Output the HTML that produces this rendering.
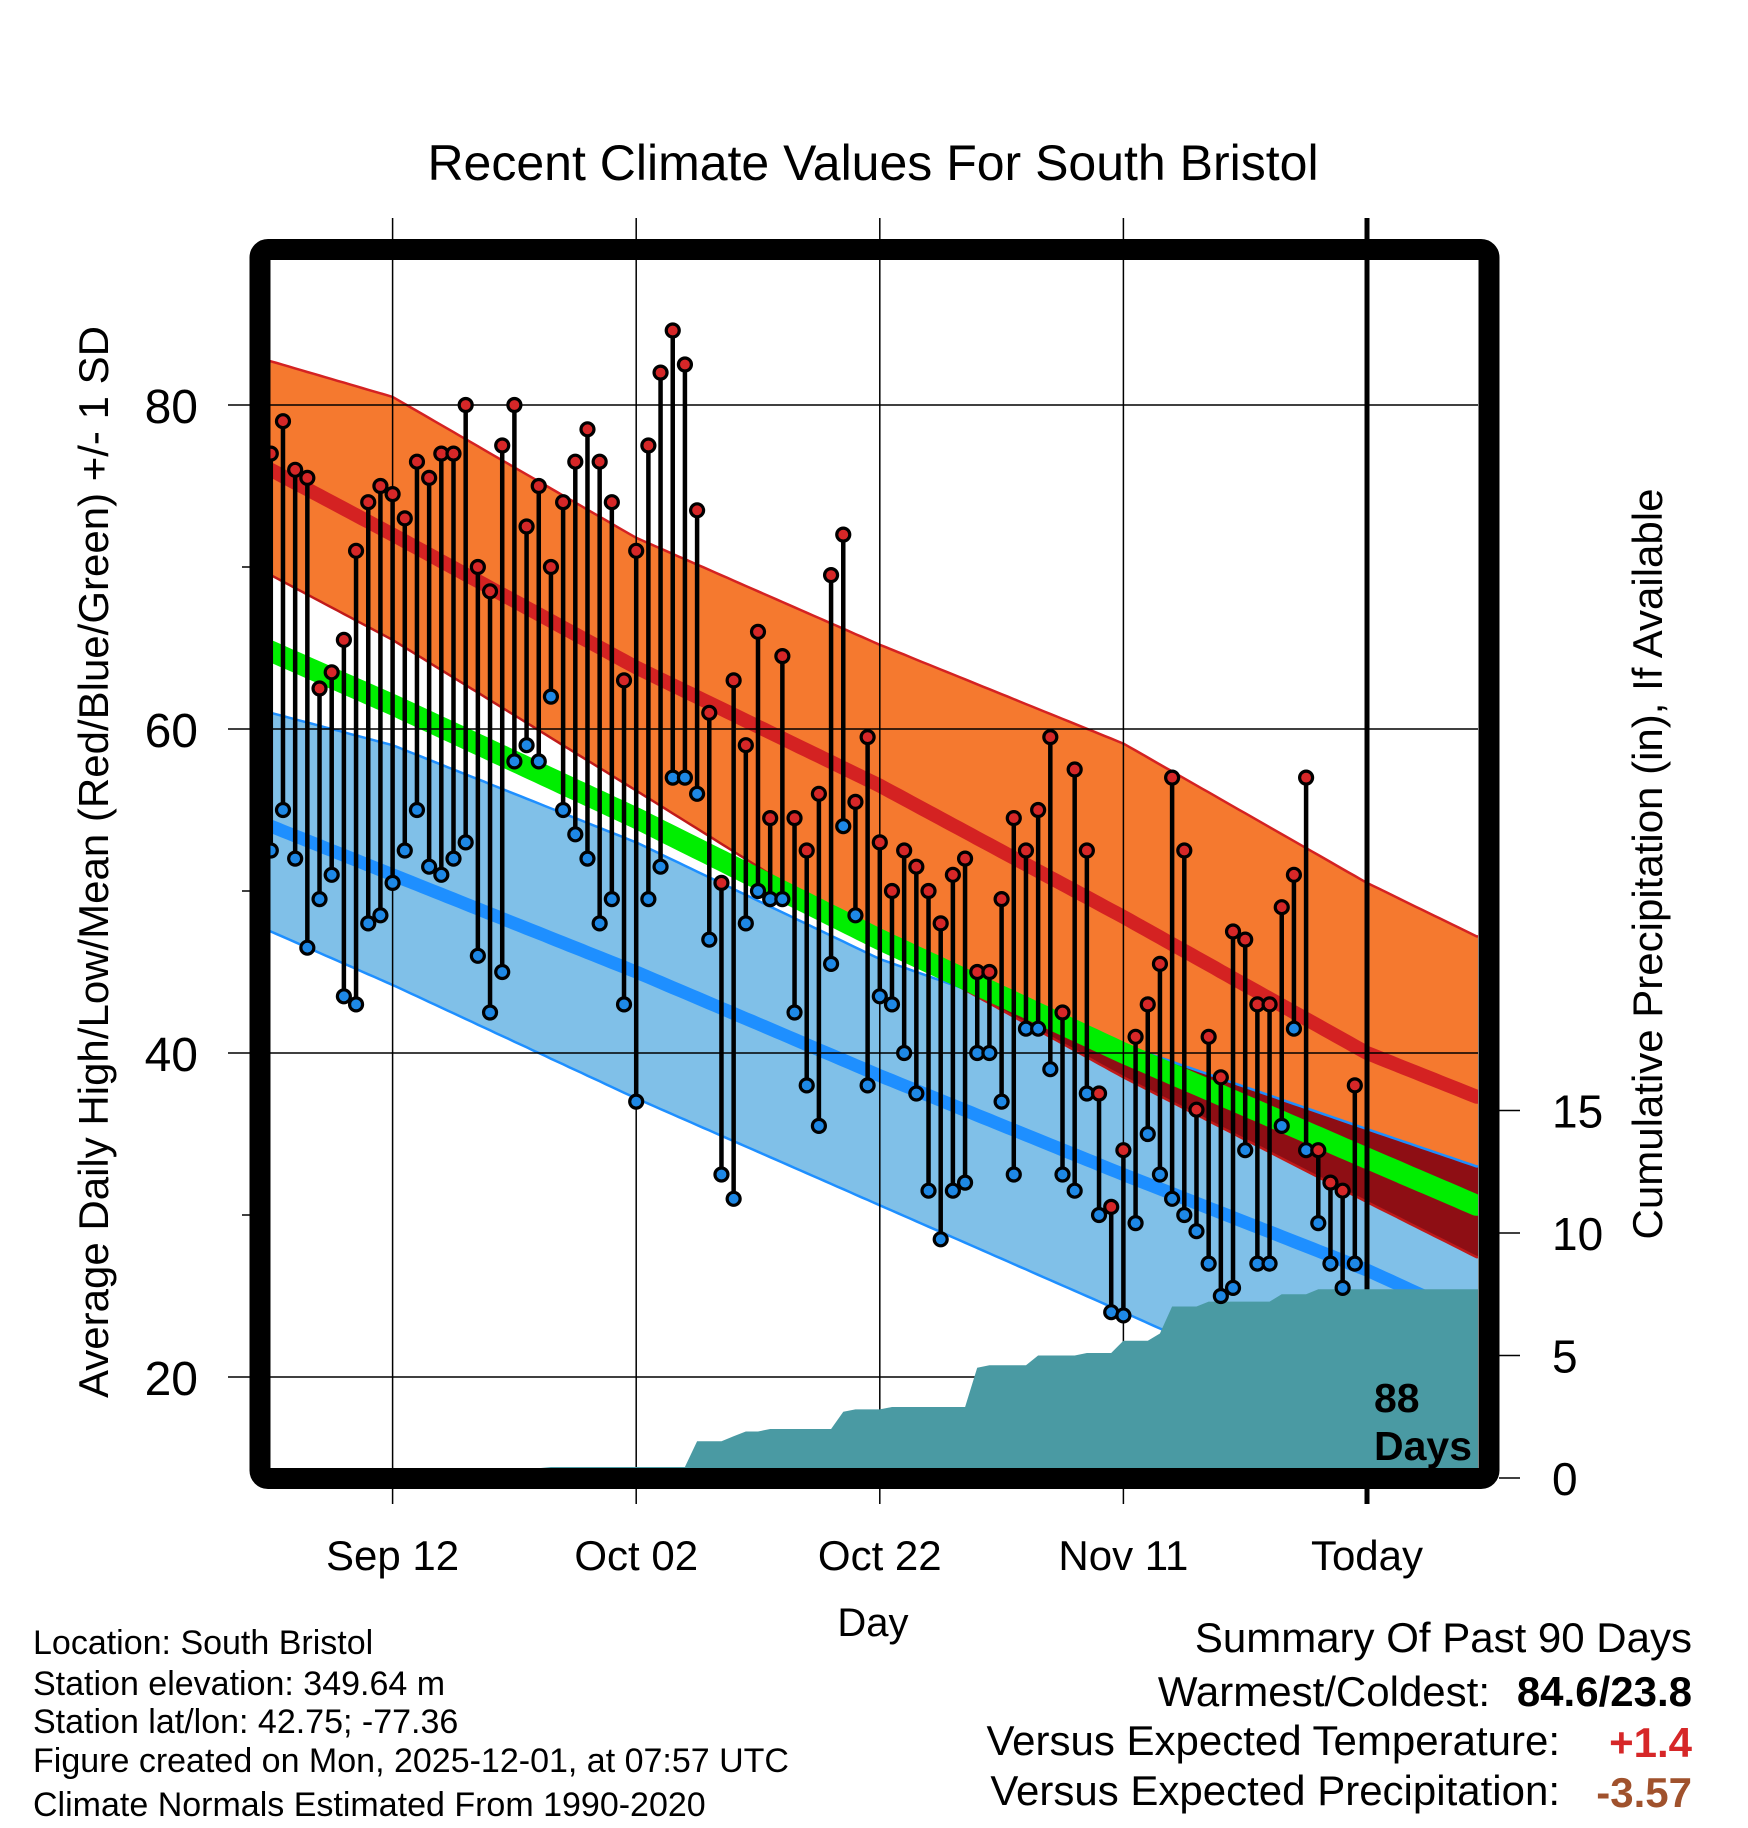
<!DOCTYPE html>
<html><head><meta charset="utf-8"><style>
html,body{margin:0;padding:0;background:#fff;}
svg{display:block;font-family:"Liberation Sans",Arial,sans-serif;}
</style></head><body>
<svg id="chart" width="1748" height="1828" viewBox="0 0 1748 1828" xmlns="http://www.w3.org/2000/svg">
<defs><clipPath id="plotclip"><rect x="270" y="260" width="1208" height="1208"/></clipPath></defs>
<rect width="1748" height="1828" fill="#fff"/>
<text x="873" y="180" font-size="50" text-anchor="middle">Recent Climate Values For South Bristol</text>
<g id="bands" clip-path="url(#plotclip)"></g>
<g id="grid"></g>
<g id="precip" clip-path="url(#plotclip)"></g>
<g id="marks"></g>
<rect x="260" y="249.5" width="1229" height="1229" rx="8" fill="none" stroke="#000" stroke-width="21"/>
<text x="1374" y="1412" font-size="41" font-weight="bold">88</text>
<text x="1374" y="1460" font-size="41" font-weight="bold">Days</text>
<g id="axes"></g>
<text x="873" y="1636" font-size="40" text-anchor="middle">Day</text>
<text transform="translate(108,862) rotate(-90)" font-size="42" text-anchor="middle">Average Daily High/Low/Mean (Red/Blue/Green) +/- 1 SD</text>
<text transform="translate(1662,864) rotate(-90)" font-size="42" text-anchor="middle">Cumulative Precipitation (in), If Available</text>
<g font-size="34">
<text x="33" y="1654">Location: South Bristol</text>
<text x="33" y="1695">Station elevation: 349.64 m</text>
<text x="33" y="1733">Station lat/lon: 42.75; -77.36</text>
<text x="33" y="1772">Figure created on Mon, 2025-12-01, at 07:57 UTC</text>
<text x="33" y="1816">Climate Normals Estimated From 1990-2020</text>
</g>
<g font-size="42">
<text x="1692" y="1652" text-anchor="end">Summary Of Past 90 Days</text>
<text x="1490" y="1706" text-anchor="end">Warmest/Coldest:</text>
<text x="1692" y="1706" text-anchor="end" font-weight="bold">84.6/23.8</text>
<text x="1560" y="1755" text-anchor="end">Versus Expected Temperature:</text>
<text x="1692" y="1757" text-anchor="end" font-weight="bold" fill="#d62728">+1.4</text>
<text x="1560" y="1805" text-anchor="end">Versus Expected Precipitation:</text>
<text x="1692" y="1807" text-anchor="end" font-weight="bold" fill="#a0522d">-3.57</text>
</g>
</svg>
<script>
const highs=[77,79,76,75.5,62.5,63.5,65.5,71,74,75,74.5,73,76.5,75.5,77,77,80,70,68.5,77.5,80,72.5,75,70,74,76.5,78.5,76.5,74,63,71,77.5,82,84.6,82.5,73.5,61,50.5,63,59,66,54.5,64.5,54.5,52.5,56,69.5,72,55.5,59.5,53,50,52.5,51.5,50,48,51,52,45,45,49.5,54.5,52.5,55,59.5,42.5,57.5,52.5,37.5,30.5,34,41,43,45.5,57,52.5,36.5,41,38.5,47.5,47,43,43,49,51,57,34,32,31.5,38];
const lows=[52.5,55,52,46.5,49.5,51,43.5,43,48,48.5,50.5,52.5,55,51.5,51,52,53,46,42.5,45,58,59,58,62,55,53.5,52,48,49.5,43,37,49.5,51.5,57,57,56,47,32.5,31,48,50,49.5,49.5,42.5,38,35.5,45.5,54,48.5,38,43.5,43,40,37.5,31.5,28.5,31.5,32,40,40,37,32.5,41.5,41.5,39,32.5,31.5,37.5,30,24,23.8,29.5,35,32.5,31,30,29,27,25,25.5,34,27,27,35.5,41.5,34,29.5,27,25.5,27];
const precipCum=[0.05,0.05,0.05,0.05,0.05,0.05,0.05,0.05,0.05,0.05,0.05,0.05,0.05,0.05,0.05,0.05,0.05,0.05,0.05,0.1,0.2,0.3,0.4,0.45,0.45,0.45,0.45,0.45,0.45,0.45,0.45,0.45,0.45,0.45,0.45,1.5,1.5,1.5,1.7,1.9,1.9,2.0,2.0,2.0,2.0,2.0,2.0,2.7,2.8,2.8,2.8,2.9,2.9,2.9,2.9,2.9,2.9,2.9,4.5,4.6,4.6,4.6,4.6,5.0,5.0,5.0,5.0,5.1,5.1,5.1,5.6,5.6,5.6,5.9,7.0,7.0,7.0,7.2,7.2,7.2,7.2,7.2,7.2,7.5,7.5,7.5,7.7,7.7,7.7,7.7];
const normalDays=[0,10,30,50,70,90,99];
const highUpper=[82.7,80.5,71.8,65.2,59.1,50.5,47.2];
const highMean=[76,72,63.8,56.5,48.4,40,37.3];
const highLower=[69.5,65.5,56.2,46.8,38.5,30.8,27.4];
const meanTemp=[64.8,61.5,54.5,47,40,33.5,30.6];
const lowUpper=[61,59,53,45.8,40.5,35.3,33];
const lowMean=[54,51,45,38.6,32.5,26.6,23.5];
const lowLower=[47.5,44.2,37.2,30.6,24,17.3,14.2];
const xTickLabels=["Sep 12","Oct 02","Oct 22","Nov 11","Today"];
const xTickDays=[10,30,50,70,90];
const yTicks=[20,40,60,80];
const yMinorTicks=[30,50,70];
const pTicks=[0,5,10,15];

const NS="http://www.w3.org/2000/svg";
function xOf(d){return 1367-(90-d)*12.18;}
function yT(t){return 405+(80-t)*16.2;}
function yP(p){return 1478-p*24.5;}
function interp(arr,d){for(let i=0;i<normalDays.length-1;i++){if(d<=normalDays[i+1]){const f=(d-normalDays[i])/(normalDays[i+1]-normalDays[i]);return arr[i]+f*(arr[i+1]-arr[i]);}}return arr[arr.length-1];}
function mk(tag,attrs,parent){const e=document.createElementNS(NS,tag);for(const k in attrs)e.setAttribute(k,attrs[k]);parent.appendChild(e);return e;}
const sampleDays=[];for(let d=-1;d<=100;d+=0.5)sampleDays.push(d);
function linePts(arr){return sampleDays.map(d=>xOf(d).toFixed(1)+","+yT(interp(arr,d)).toFixed(1));}
function bandPts(up,lo){return linePts(up).concat(linePts(lo).reverse()).join(" ");}
function bandFn(fu,fl){const a=sampleDays.map(d=>xOf(d).toFixed(1)+","+yT(fu(d)).toFixed(1));const b=sampleDays.map(d=>xOf(d).toFixed(1)+","+yT(fl(d)).toFixed(1)).reverse();return a.concat(b).join(" ");}

const bands=document.getElementById('bands');
let e;
e=mk('polygon',{points:bandPts(lowUpper,lowLower),fill:'#80c0e8'},bands);

e=mk('polygon',{points:bandPts(highUpper,highLower),fill:'#f5792f'},bands);

e=mk('polygon',{points:bandFn(d=>Math.min(interp(highUpper,d),interp(lowUpper,d)),d=>Math.min(Math.max(interp(highLower,d),interp(lowLower,d)),Math.min(interp(highUpper,d),interp(lowUpper,d)))),fill:'#8e0e14'},bands);

[[lowUpper,'low-sd-upper-edge','#1e8fff',2.5],[lowLower,'low-sd-lower-edge','#1e8fff',2.5],[highUpper,'high-sd-upper-edge','#d42222',2.5],[highLower,'high-sd-lower-edge','#c01a1a',2.5],[meanTemp,'mean-temp-line','#00ee00',21],[highMean,'mean-high-line','#d42222',14],[lowMean,'mean-low-line','#1e8fff',13]].forEach(s=>{
  const p=mk('polyline',{points:linePts(s[0]).join(" "),fill:'none',stroke:s[2],'stroke-width':s[3],'stroke-linejoin':'round'},bands);
  
  
});

const grid=document.getElementById('grid');
yTicks.forEach(t=>{const l=mk('line',{x1:228,x2:1478,y1:yT(t),y2:yT(t),stroke:'#000','stroke-width':1.5},grid);
});
yMinorTicks.forEach(t=>{const l=mk('line',{x1:242,x2:260,y1:yT(t),y2:yT(t),stroke:'#000','stroke-width':1.5},grid);
});
xTickDays.forEach((d,i)=>{const w=i===4?5:1.5;const l=mk('line',{x1:xOf(d),x2:xOf(d),y1:218,y2:1504,stroke:'#000','stroke-width':w},grid);
});

const pg=document.getElementById('precip');
let pts=[xOf(-1)+","+yP(precipCum[0]).toFixed(1)];
precipCum.forEach((p,d)=>{pts.push(xOf(d).toFixed(1)+","+yP(p).toFixed(1));});
pts.push(xOf(100)+","+yP(precipCum[precipCum.length-1]).toFixed(1));
pts.push(xOf(100)+","+(yP(0)+20));pts.push(xOf(-1)+","+(yP(0)+20));
e=mk('polygon',{points:pts.join(" "),fill:'#4a9aa3'},pg);


const marks=document.getElementById('marks');
highs.forEach((h,d)=>{const x=xOf(d);
  const s=mk('line',{x1:x,x2:x,y1:yT(h),y2:yT(lows[d]),stroke:'#000','stroke-width':4.5},marks);
  });
highs.forEach((h,d)=>{const x=xOf(d);
  const c1=mk('circle',{cx:x,cy:yT(h),r:6.5,fill:'#d62728',stroke:'#000','stroke-width':3.2},marks);
  
  const c2=mk('circle',{cx:x,cy:yT(lows[d]),r:6.5,fill:'#1e88e5',stroke:'#000','stroke-width':3.2},marks);
  });

const axes=document.getElementById('axes');
yTicks.forEach(t=>{const tx=mk('text',{x:198,y:yT(t)+18,'font-size':48,'text-anchor':'end'},axes);tx.textContent=t;
});
pTicks.forEach(p=>{const l=mk('line',{x1:1499,x2:1520,y1:yP(p),y2:yP(p),stroke:'#000','stroke-width':1.5},axes);

const tx=mk('text',{x:1552,y:yP(p)+17,'font-size':46},axes);tx.textContent=p;
});
xTickDays.forEach((d,i)=>{const tx=mk('text',{x:xOf(d),y:1570,'font-size':42,'text-anchor':'middle'},axes);tx.textContent=xTickLabels[i];
});
</script>
</body></html>
